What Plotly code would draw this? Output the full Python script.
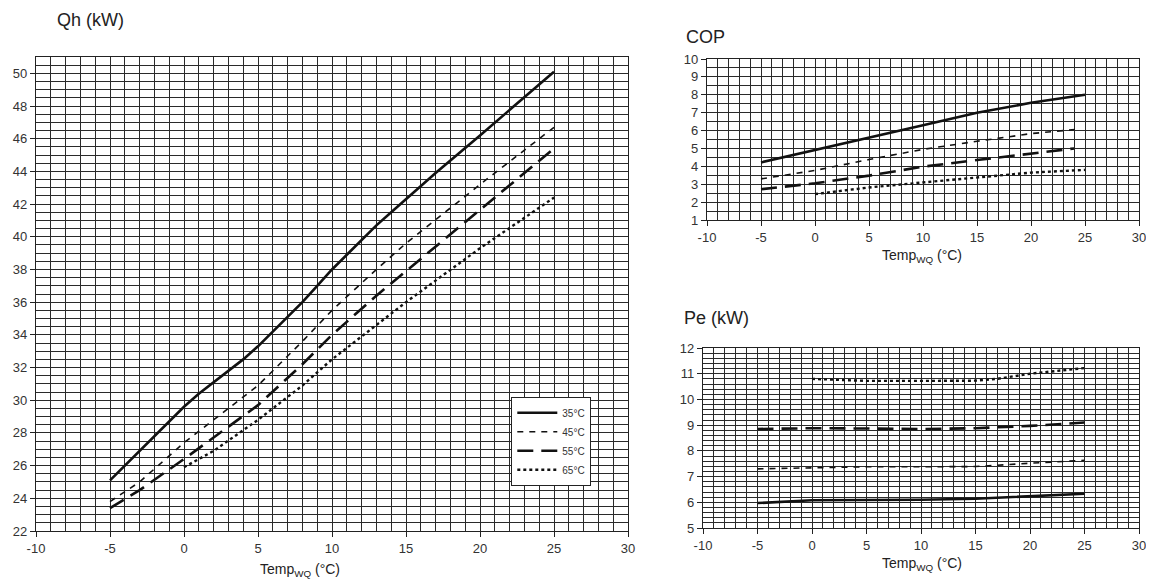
import plotly.graph_objects as go

# ---------------- data ----------------
temp_qh_35 = [-5, -4, -3, -2, -1, 0, 1, 2, 3, 4, 5, 6, 7, 8, 9, 10, 11, 12, 13, 14, 15, 17, 20, 25]
qh_35 = [25.1, 26.0, 26.9, 27.8, 28.7, 29.6, 30.4, 31.1, 31.8, 32.5, 33.3, 34.2, 35.1, 36.0, 37.0, 38.0, 38.9, 39.8, 40.7, 41.5, 42.3, 43.9, 46.2, 50.1]
temp_qh_45 = [-5, -3, 0, 2, 5, 8, 10, 13, 15, 20, 25]
qh_45 = [23.8, 25.0, 27.4, 28.8, 30.9, 33.6, 35.5, 38.0, 39.6, 43.2, 46.7]
temp_qh_55 = [-5, -3, 0, 2, 5, 8, 10, 13, 15, 20, 25]
qh_55 = [23.4, 24.5, 26.4, 27.7, 29.7, 32.2, 34.0, 36.4, 37.9, 41.6, 45.4]
temp_qh_65 = [0, 2, 5, 8, 10, 13, 15, 20, 25]
qh_65 = [25.9, 26.9, 28.8, 30.9, 32.5, 34.6, 36.0, 39.3, 42.4]

temp_cop = [-5, 0, 5, 10, 15, 20, 25]
cop_35 = [4.22, 4.9, 5.6, 6.3, 7.0, 7.55, 8.0]
temp_cop_45 = [-5, 0, 5, 10, 15, 20, 24.5]
cop_45 = [3.3, 3.77, 4.38, 4.95, 5.4, 5.83, 6.08]
temp_cop_55 = [-5, 0, 5, 10, 15, 20, 24]
cop_55 = [2.72, 3.05, 3.48, 3.98, 4.35, 4.7, 5.0]
temp_cop_65 = [0, 5, 10, 15, 20, 25]
cop_65 = [2.45, 2.82, 3.1, 3.38, 3.65, 3.8]

temp_pe = [-5, 0, 5, 10, 15, 20, 25]
pe_35 = [5.97, 6.08, 6.09, 6.1, 6.14, 6.23, 6.33]
pe_45 = [7.3, 7.33, 7.38, 7.38, 7.39, 7.52, 7.63]
pe_55 = [8.85, 8.88, 8.87, 8.85, 8.88, 8.97, 9.1]
temp_pe_65 = [0, 5, 10, 15, 17, 20, 25]
pe_65 = [10.8, 10.72, 10.72, 10.73, 10.8, 11.0, 11.22]

labels = ["35°C", "45°C", "55°C", "65°C"]
x_ticks = [-10, -5, 0, 5, 10, 15, 20, 25, 30]
x_tick_text = ["-10", "-5", "0", "5", "10", "15", "20", "25", "30"]

# ---------------- layout helpers ----------------
# page body has an 8px margin; the figure is sized to fit inside the window
OFF = 8
W, H = 1154 - 2 * OFF, 588 - 2 * OFF


def fx(px):
    return (px - OFF) / W


def fy(py):
    return 1 - (py - OFF) / H


styles = [
    dict(color="#111", width=2.6, dash="solid"),
    dict(color="#111", width=1.6, dash="6px,6px"),
    dict(color="#111", width=2.6, dash="16px,8px"),
    dict(color="#111", width=2.4, dash="dot"),
]

fig = go.Figure()

qh_sets = [(temp_qh_35, qh_35), (temp_qh_45, qh_45), (temp_qh_55, qh_55), (temp_qh_65, qh_65)]
for (tx, ty), lab, st in zip(qh_sets, labels, styles):
    fig.add_trace(go.Scatter(x=tx, y=ty, mode="lines", name=lab, line=st,
                             xaxis="x", yaxis="y", showlegend=True))

cop_sets = [(temp_cop, cop_35), (temp_cop_45, cop_45), (temp_cop_55, cop_55), (temp_cop_65, cop_65)]
for (tx, ty), lab, st in zip(cop_sets, labels, styles):
    fig.add_trace(go.Scatter(x=tx, y=ty, mode="lines", name=lab, line=st,
                             xaxis="x2", yaxis="y2", showlegend=False))

pe_sets = [(temp_pe, pe_35), (temp_pe, pe_45), (temp_pe, pe_55), (temp_pe_65, pe_65)]
for (tx, ty), lab, st in zip(pe_sets, labels, styles):
    fig.add_trace(go.Scatter(x=tx, y=ty, mode="lines", name=lab, line=st,
                             xaxis="x3", yaxis="y3", showlegend=False))

GRID = "#2a2a2a"
TICKFONT = dict(family="Liberation Sans, Arial, sans-serif", size=13, color="#333")


def xax(domain, anchor):
    return dict(domain=domain, anchor=anchor, range=[-10, 30],
                tickvals=x_ticks, ticktext=x_tick_text, automargin=False,
                ticklabeloverflow="allow",
                showgrid=True, gridcolor=GRID, gridwidth=1.3,
                minor=dict(dtick=1, tick0=-10, showgrid=True, gridcolor=GRID, gridwidth=1.3),
                zeroline=False, showline=True, linecolor="#222", linewidth=1.3, mirror=True,
                ticks="outside", ticklen=5, tickcolor="#222", tickfont=TICKFONT, fixedrange=True)


def yax(domain, anchor, rng, dtick, minor):
    return dict(domain=domain, anchor=anchor, range=rng, dtick=dtick, tick0=rng[0],
                automargin=False,
                showgrid=True, gridcolor=GRID, gridwidth=1.3,
                minor=dict(dtick=minor, tick0=rng[0], showgrid=True, gridcolor=GRID, gridwidth=1.3),
                zeroline=False, showline=True, linecolor="#222", linewidth=1.3, mirror=True,
                ticks="outside", ticklen=5, tickcolor="#222", tickfont=TICKFONT, fixedrange=True)


fig.update_layout(
    width=W, height=H,
    margin=dict(l=0, r=0, t=0, b=0, autoexpand=False),
    paper_bgcolor="white", plot_bgcolor="white",
    xaxis=xax([fx(36), fx(628)], "y"),
    yaxis=yax([fy(531), fy(57)], "x", [22, 51], 2, 0.5),
    xaxis2=xax([fx(707), fx(1139)], "y2"),
    yaxis2=yax([fy(220), fy(59)], "x2", [1, 10], 1, 0.5),
    xaxis3=xax([fx(703), fx(1139)], "y3"),
    yaxis3=yax([fy(528), fy(348)], "x3", [5, 12], 1, 0.2),
    legend=dict(x=fx(511), y=fy(397), xanchor="left", yanchor="top",
                bgcolor="white", bordercolor="#222", borderwidth=1.3,
                font=dict(family="Liberation Sans, Arial, sans-serif", size=10, color="#333"),
                itemwidth=40, tracegroupgap=4),
    showlegend=True,
)

TFONT = dict(family="Liberation Sans, Arial, sans-serif", size=18, color="#222")
XFONT = dict(family="Liberation Sans, Arial, sans-serif", size=14, color="#222")
ann = [
    dict(text="Qh (kW)", x=fx(55), y=fy(20), xanchor="left", yanchor="middle", font=TFONT),
    dict(text="COP", x=fx(684), y=fy(37), xanchor="left", yanchor="middle", font=TFONT),
    dict(text="Pe (kW)", x=fx(682), y=fy(318), xanchor="left", yanchor="middle", font=TFONT),
    dict(text="Temp<sub>WQ</sub> (°C)", x=fx(300), y=fy(570), xanchor="center", yanchor="middle", font=XFONT),
    dict(text="Temp<sub>WQ</sub> (°C)", x=fx(922), y=fy(256), xanchor="center", yanchor="middle", font=XFONT),
    dict(text="Temp<sub>WQ</sub> (°C)", x=fx(922), y=fy(564), xanchor="center", yanchor="middle", font=XFONT),
]
for a in ann:
    fig.add_annotation(xref="paper", yref="paper", showarrow=False, **a)

fig.write_html("out.html")
